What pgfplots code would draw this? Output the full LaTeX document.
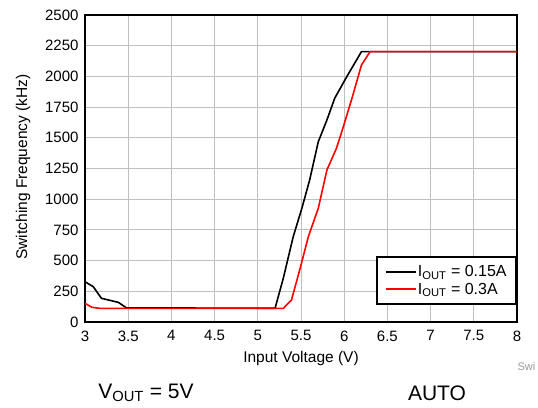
\documentclass[border=0pt]{standalone}
\usepackage{fontspec}
\setmainfont{Liberation Sans}
\usepackage{pgfplots}
\pgfplotsset{compat=1.18}
\begin{document}
\begin{tikzpicture}[x=1pt,y=1pt]
\useasboundingbox (0,0) rectangle (538,407);
\begin{axis}[
  scale only axis, width=432pt, height=307pt,
  at={(85pt,85pt)}, anchor=south west,
  xmin=3, xmax=8, ymin=0, ymax=2500,
  xtick={3,3.5,...,8}, ytick={0,250,...,2500},
  xticklabels={3,3.5,4,4.5,5,5.5,6,6.5,7,7.5,8},
  yticklabels={0,250,500,750,1000,1250,1500,1750,2000,2250,2500},
  grid=major, major grid style={draw=black!25, line width=0.9pt},
  axis line style={line width=2.2pt},
  tick style={draw=none},
  ticklabel style={font=\fontsize{15}{17}\selectfont},
  xticklabel style={yshift=-5pt},
  yticklabel style={xshift=-3pt},
  /pgf/number format/assume math mode=true,
  legend style={at={(1,0.055)}, anchor=south east, draw=black, line width=1.8pt,
    font=\fontsize{16}{17}\selectfont, inner xsep=8pt, inner ysep=7pt, row sep=2pt,
    nodes={inner sep=1.5pt}},
  legend cell align=left,
  legend image code/.code={\draw[#1, line width=1.8pt] (0pt,0pt) -- (30pt,0pt);},
]
\addplot[black, line width=1.6pt] coordinates {
(3,328) (3.096,287) (3.19,193) (3.385,160) (3.48,115) (5.20,112) (5.295,356) (5.41,695) (5.51,926) (5.60,1156) (5.70,1468) (5.80,1645) (5.89,1822) (6.03,1998) (6.20,2202) (8,2202)};
\addlegendentry{I\textsubscript{OUT} = 0.15A}
\addplot[red, line width=1.6pt] coordinates {
(3,152) (3.08,120) (3.17,111) (5.295,111) (5.39,180) (5.49,437) (5.585,695) (5.70,926) (5.80,1238) (5.91,1414) (5.99,1590) (6.09,1822) (6.20,2093) (6.30,2202) (8,2202)};
\addlegendentry{I\textsubscript{OUT} = 0.3A}
\end{axis}
\node[rotate=90, font=\fontsize{15.5}{17}\selectfont] at (23,240) {Switching Frequency (kHz)};
\node[font=\fontsize{15.5}{17}\selectfont] at (301,49) {Input Voltage (V)};
\node[font=\fontsize{11}{12}\selectfont, text=black!40, anchor=west] at (514,40) {Swi};
\node[font=\fontsize{21}{22}\selectfont] at (146,14) {V\textsubscript{OUT} = 5V};
\node[font=\fontsize{21}{22}\selectfont] at (437,14) {AUTO};
\end{tikzpicture}
\end{document}
